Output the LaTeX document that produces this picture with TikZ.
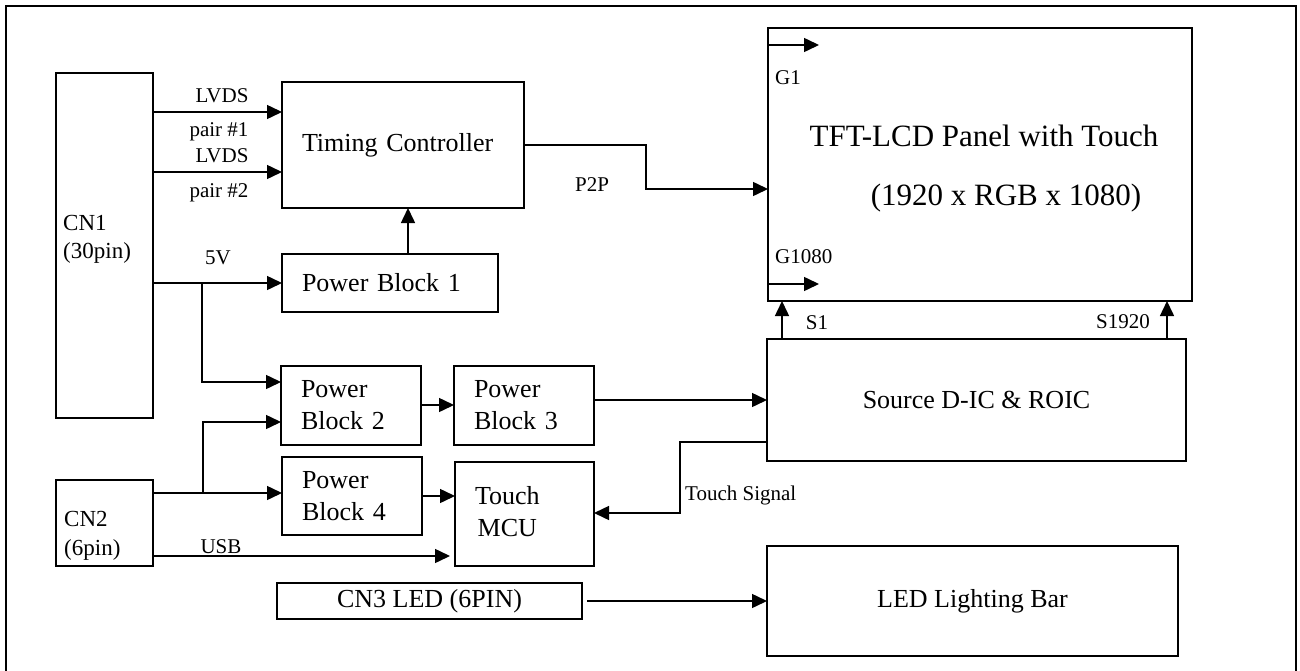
\documentclass[tikz,border=0pt]{standalone}
\usepackage{fontspec}
\setmainfont{Liberation Serif}
\usetikzlibrary{arrows.meta}
\begin{document}
\begin{tikzpicture}[x=1pt,y=-1pt,
  box/.style={draw,line width=1.8pt,inner sep=0pt,outer sep=0pt},
  boxtext/.style={font=\fontsize{26}{32}\selectfont},
  lefttext/.style={boxtext,align=left,inner xsep=20pt},
  cntext/.style={font=\fontsize{23}{28}\selectfont,inner sep=0pt,anchor=base west},
  lbl/.style={font=\fontsize{21}{25}\selectfont,inner sep=0pt,anchor=base},
  tfttext/.style={font=\fontsize{31}{37}\selectfont,inner sep=0pt,anchor=base},
  arr/.style={line width=1.5pt,-{Triangle[length=15pt,width=14pt]}},
  wire/.style={line width=1.5pt}]
\useasboundingbox (0,0) rectangle (1300,671);
\draw[line width=2.5pt] (6,690) -- (6,6) -- (1296,6) -- (1296,690);

% boxes
\node[box,minimum width=97pt,minimum height=345pt] (cn1) at (104.5,245.5) {};
\node[box,lefttext,text width=202pt,minimum height=126pt] (tc) at (403,145) {Timing Controller};
\node[box,lefttext,text width=176pt,minimum height=58pt] (pb1) at (390,283) {Power Block 1};
\node[box,minimum width=424pt,minimum height=273pt] (tft) at (980,164.5) {};
\node[box,boxtext,minimum width=419pt,minimum height=122pt] (src) at (976.5,400) {Source D-IC \& ROIC};
\node[box,lefttext,text width=100pt,minimum height=79pt] (pb2) at (351,405.5) {Power\\Block 2};
\node[box,lefttext,text width=100pt,minimum height=79pt] (pb3) at (524,405.5) {Power\\Block 3};
\node[box,lefttext,text width=100pt,minimum height=78pt] (pb4) at (352,496) {Power\\Block 4};
\node[box,lefttext,text width=99pt,minimum height=104pt] (mcu) at (524.5,514) {\begin{tabular}{@{}c@{}}Touch\\MCU\end{tabular}};
\node[box,minimum width=97pt,minimum height=86pt] (cn2) at (104.5,523) {};
\node[box,boxtext,minimum width=305pt,minimum height=36pt] (cn3) at (429.5,601) {CN3 LED (6PIN)};
\node[box,boxtext,minimum width=411pt,minimum height=110pt] (led) at (972.5,601) {LED Lighting Bar};

% texts
\node[cntext] (cn1a) at (63,230) {CN1};
\node[cntext] (cn1b) at (63,258) {(30pin)};
\node[cntext] (cn2a) at (64,526) {CN2};
\node[cntext] (cn2b) at (64,555) {(6pin)};
\node[tfttext] (tfta) at (984,147) {TFT-LCD Panel with Touch};
\node[tfttext] (tftb) at (1006,205) {(1920 x RGB x 1080)};

\node[lbl] (lvdsa) at (222,103) {LVDS};
\node[lbl] (paira) at (219,137) {pair \#1};
\node[lbl] (lvdsb) at (222,163) {LVDS};
\node[lbl] (pairb) at (219,197) {pair \#2};
\node[lbl] (fivev) at (218,264) {5V};
\node[lbl] (usb) at (221,553) {USB};
\node[lbl] (p2p) at (592,192) {P2P};
\node[lbl,anchor=base west] (g1) at (775,85) {G1};
\node[lbl,anchor=base west] (g1080) at (775,263) {G1080};
\node[lbl] (s1) at (817,329) {S1};
\node[lbl] (s1920) at (1123,328) {S1920};
\node[lbl,anchor=base west] (tsig) at (685,500) {Touch Signal};

% coordinates
\coordinate (j1) at (202,283);
\coordinate (j2) at (203,493);
\coordinate (g1e) at (819,45);
\coordinate (g1080e) at (819,284);

% connectors
\draw[arr] (cn1.east |- 0,112) -- (tc.west |- 0,112);
\draw[arr] (cn1.east |- 0,172) -- (tc.west |- 0,172);
\draw[arr] (cn1.east |- pb1.west) -- (pb1.west);
\draw[arr] (j1) |- (pb2.west |- 0,382);
\draw[arr] (pb1.north -| 408,0) -- (tc.south -| 408,0);
\draw[arr] (tc.east) -- (646,145) -- (646,189) -- (tft.west |- 0,189);
\draw[arr] (tft.west |- g1e) -- (g1e);
\draw[arr] (tft.west |- g1080e) -- (g1080e);
\draw[arr] (src.north -| 782,0) -- (tft.south -| 782,0);
\draw[arr] (src.north -| 1167,0) -- (tft.south -| 1167,0);
\draw[arr] (pb2.east |- 0,405) -- (pb3.west |- 0,405);
\draw[arr] (pb3.east |- src.west) -- (src.west);
\draw[arr] (src.west |- 0,442) -- (680,442) -- (680,513) -- (mcu.east |- 0,513);
\draw[arr] (cn2.east |- j2) -- (pb4.west |- j2);
\draw[arr] (j2) |- (pb2.west |- 0,422);
\draw[arr] (pb4.east) -- (mcu.west |- pb4.east);
\draw[arr,shorten >=5pt] (cn2.east |- 0,556) -- (mcu.west |- 0,556);
\draw[arr,shorten <=5pt] (cn3.east) -- (led.west |- cn3.east);
\end{tikzpicture}
\end{document}
